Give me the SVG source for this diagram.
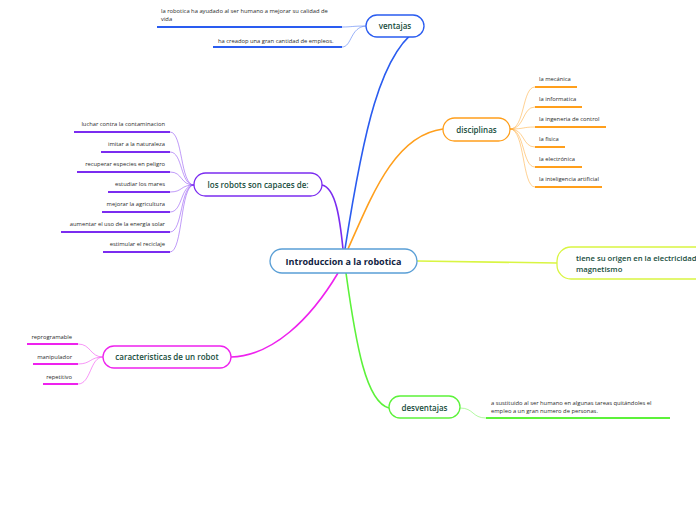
<svg xmlns="http://www.w3.org/2000/svg" width="696" height="520" viewBox="0 0 696 520">
<style>
text{font-family:"Open Sans","Noto Sans","Liberation Sans",sans-serif;}
.leaf{font-size:5.8px;fill:#2a2a2a;}
.lbl{font-size:8px;fill:#174d3c;font-weight:600;}
.node{fill:#fff;stroke-width:1.3;}
.blue{stroke:#2a5cf0;}
.orange{stroke:#ff9f1c;}
.purple{stroke:#7b2cf0;}
.magenta{stroke:#ee22ee;}
.green{stroke:#5cf23a;}
.lime{stroke:#d9f542;}
.ul{stroke-width:2;fill:none;}
.thin{fill:none;stroke-width:0.8;opacity:0.6;}
.main{fill:none;stroke-width:1.6;}
</style>
<rect width="696" height="520" fill="#fff"/>
<g id="connectors">
<path class="main blue" d="M345,249 C362,140 380,45 424,26"/>
<path class="main orange" d="M348,249 C372,195 395,135 443,129"/>
<path class="main purple" d="M322,185 C336,188 340,220 343,249"/>
<path class="main magenta" d="M338,273 C310,320 272,356 231,357"/>
<path class="main green" d="M346,273 C356,345 366,402 389,408"/>
<path class="main lime" d="M417,261 L557,263"/>
<path class="thin blue" d="M366,26 C352,26 352,27 342,27"/>
<path class="thin blue" d="M366,26 C350,27 352,47 342,47"/>
<path class="thin orange" d="M510,129 C525,129 522,87 535,87"/>
<path class="thin orange" d="M510,129 C525,129 522,107 535,107"/>
<path class="thin orange" d="M510,129 C525,129 522,127 535,127"/>
<path class="thin orange" d="M510,129 C525,129 522,147 535,147"/>
<path class="thin orange" d="M510,129 C525,129 522,167 535,167"/>
<path class="thin orange" d="M510,129 C525,129 522,187 535,187"/>
<path class="thin purple" d="M194,185 C180,185 183,132 170,132"/>
<path class="thin purple" d="M194,185 C180,185 183,152 170,152"/>
<path class="thin purple" d="M194,185 C180,185 183,172 170,172"/>
<path class="thin purple" d="M194,185 C180,185 183,192 170,192"/>
<path class="thin purple" d="M194,185 C180,185 183,212 170,212"/>
<path class="thin purple" d="M194,185 C180,185 183,232 170,232"/>
<path class="thin purple" d="M194,185 C180,185 183,252 170,252"/>
<path class="thin magenta" d="M103,357 C90,357 91,344 78,344"/>
<path class="thin magenta" d="M103,357 C90,357 91,364 78,364"/>
<path class="thin magenta" d="M103,357 C90,357 91,384 78,384"/>
<path class="thin green" d="M460,408 C474,408 472,418 486,418"/>
</g>
<g id="n-center">
<rect x="270" y="249" width="147" height="24" rx="12" fill="#fff" stroke="#5a9fd6" stroke-width="1.3"/>
<text x="343.5" y="264.5" text-anchor="middle" font-size="9" font-weight="700" fill="#10223f">Introduccion a la robotica</text>
</g>
<g id="n-ventajas">
<rect class="node blue" x="366" y="15" width="58" height="22" rx="11"/>
<text class="lbl" x="395" y="29" text-anchor="middle">ventajas</text>
</g>
<g id="v1">
<text class="leaf" x="161" y="13">la robotica ha ayudado al ser humano a mejorar su calidad de</text>
<text class="leaf" x="161" y="21">vida</text>
<path class="ul blue" d="M157,27 L342,27"/>
</g>
<g id="v2">
<text class="leaf" x="218" y="43">ha creadop una gran cantidad de empleos.</text>
<path class="ul blue" d="M213,47 L342,47"/>
</g>
<g id="n-disciplinas">
<rect class="node orange" x="443" y="118" width="67" height="23" rx="11.5"/>
<text class="lbl" x="476.5" y="132.5" text-anchor="middle">disciplinas</text>
</g>
<g id="d1"><text class="leaf" x="539" y="81">la mecánica</text><path class="ul orange" d="M535,87 L577,87"/></g>
<g id="d2"><text class="leaf" x="539" y="101">la informatica</text><path class="ul orange" d="M535,107 L582,107"/></g>
<g id="d3"><text class="leaf" x="539" y="121">la ingeneria de control</text><path class="ul orange" d="M535,127 L606,127"/></g>
<g id="d4"><text class="leaf" x="539" y="141">la fisica</text><path class="ul orange" d="M535,147 L565,147"/></g>
<g id="d5"><text class="leaf" x="539" y="161">la electrónica</text><path class="ul orange" d="M535,167 L582,167"/></g>
<g id="d6"><text class="leaf" x="539" y="181">la inteligencia artificial</text><path class="ul orange" d="M535,187 L602,187"/></g>
<g id="n-robots">
<rect class="node purple" x="194" y="173" width="128" height="23" rx="11.5"/>
<text class="lbl" x="258" y="187.5" text-anchor="middle">los robots son capaces de:</text>
</g>
<g id="r1"><text class="leaf" x="165" y="126" text-anchor="end">luchar contra la contaminacion</text><path class="ul purple" d="M74,132 L170,132"/></g>
<g id="r2"><text class="leaf" x="165" y="146" text-anchor="end">imitar a la naturaleza</text><path class="ul purple" d="M101,152 L170,152"/></g>
<g id="r3"><text class="leaf" x="165" y="166" text-anchor="end">recuperar especies en peligro</text><path class="ul purple" d="M77,172 L170,172"/></g>
<g id="r4"><text class="leaf" x="165" y="186" text-anchor="end">estudiar los mares</text><path class="ul purple" d="M108,192 L170,192"/></g>
<g id="r5"><text class="leaf" x="165" y="206" text-anchor="end">mejorar la agricultura</text><path class="ul purple" d="M102,212 L170,212"/></g>
<g id="r6"><text class="leaf" x="165" y="226" text-anchor="end">aumentar el uso de la energía solar</text><path class="ul purple" d="M61,232 L170,232"/></g>
<g id="r7"><text class="leaf" x="165" y="246" text-anchor="end">estimular el reciclaje</text><path class="ul purple" d="M103,252 L170,252"/></g>
<g id="n-origen">
<rect class="node lime" x="557" y="247" width="160" height="32" rx="14"/>
<text class="lbl" x="576" y="261" style="font-size:7.7px">tiene su origen en la electricidad</text>
<text class="lbl" x="576" y="272" style="font-size:7.7px">magnetismo</text>
</g>
<g id="n-caracteristicas">
<rect class="node magenta" x="103" y="346" width="128" height="22" rx="11"/>
<text class="lbl" x="167" y="360" text-anchor="middle">caracteristicas de un robot</text>
</g>
<g id="c1"><text class="leaf" x="72" y="339" text-anchor="end">reprogramable</text><path class="ul magenta" d="M27,344 L78,344"/></g>
<g id="c2"><text class="leaf" x="72" y="359" text-anchor="end">manipulador</text><path class="ul magenta" d="M33,364 L78,364"/></g>
<g id="c3"><text class="leaf" x="72" y="379" text-anchor="end">repetitivo</text><path class="ul magenta" d="M43,384 L78,384"/></g>
<g id="n-desventajas">
<rect class="node green" x="389" y="396" width="71" height="22" rx="11"/>
<text class="lbl" x="424.5" y="410.5" text-anchor="middle">desventajas</text>
</g>
<g id="dv1">
<text class="leaf" x="491" y="405">a sustituido al ser humano en algunas tareas quitándoles el</text>
<text class="leaf" x="491" y="413">empleo a un gran numero de personas.</text>
<path class="ul green" d="M486,418 L670,418"/>
</g>
</svg>
